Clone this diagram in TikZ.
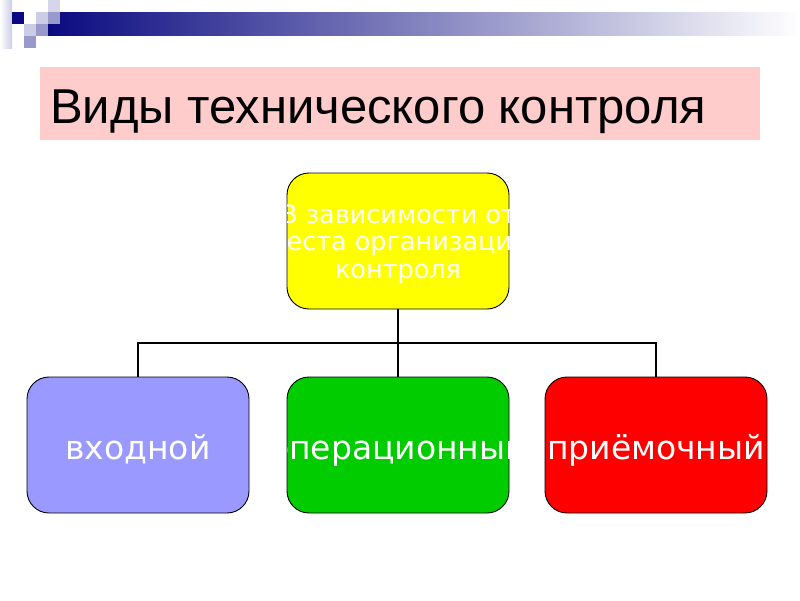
\documentclass[tikz,border=0pt]{standalone}
\usepackage{fontspec}
\setmainfont{Liberation Sans}
\newfontfamily\boxfont{DejaVu Sans}
\definecolor{navy}{HTML}{0A0A80}
\definecolor{midlav}{HTML}{9999CC}
\definecolor{palelav}{HTML}{CCCCE6}
\definecolor{titlepink}{HTML}{FFCCCC}
\definecolor{boxblue}{HTML}{9999FF}
\definecolor{boxgreen}{HTML}{00CC00}
\definecolor{boxred}{HTML}{FF0000}
\definecolor{boxyellow}{HTML}{FFFF00}
\tikzset{
  card/.style={draw=black, line width=0.9pt, rounded corners=22pt, minimum width=222pt, minimum height=136pt, inner sep=0pt},
  cardtext/.style={text=white, font=\boxfont\fontsize{33}{33}\selectfont, inner sep=0pt, anchor=base},
  smalltext/.style={text=white, font=\boxfont\fontsize{25.5}{25.5}\selectfont, inner sep=0pt, anchor=base},
  link/.style={draw=black, line width=1.4pt}
}
\begin{document}
\begin{tikzpicture}[x=1pt,y=-1pt]
\useasboundingbox (0,0) rectangle (800,600);
% decoration
\shade[left color=white, right color=palelav] (0,0) rectangle (12,48);
\shade[left color=navy, right color=white] (48,12) rectangle (800,35);
\fill[white] (48,12) rectangle (60,24);
\fill[navy] (12,12) rectangle (24,24);
\fill[palelav] (36,12) rectangle (48,24);
\fill[palelav!80] (48,0) rectangle (60,12);
\fill[midlav] (48,12) rectangle (60,24);
\fill[palelav] (24,24) rectangle (36,36);
\fill[midlav] (36,24) rectangle (48,36);
\fill[midlav] (24,36) rectangle (36,48);
% title
\fill[titlepink] (40,67) rectangle (760,140);
\node[anchor=base west, inner sep=0pt, font=\fontsize{49}{49}\selectfont] (title) at (50,123) {Виды технического контроля};
% boxes
\node[card, fill=boxyellow] (top) at (398,241) {};
\node[card, fill=boxblue] (b1) at (138,445) {};
\node[card, fill=boxgreen] (b2) at (398,445) {};
\node[card, fill=boxred] (b3) at (656,445) {};
% connectors
\coordinate (j) at (398,343);
\draw[link] (top.south) -- (j);
\draw[link] (j) -| (b1.north);
\draw[link] (j) -- (b2.north);
\draw[link] (j) -| (b3.north);
% texts (clipped to boxes)
\begin{scope}
\clip[rounded corners=22pt] (top.south west) rectangle (top.north east);
\node[smalltext] (t1) at (398,223) {В зависимости от};
\node[smalltext] (t2) at (398,250.5) {места организации};
\node[smalltext] (t3) at (398,278) {контроля};
\end{scope}
\begin{scope}
\clip[rounded corners=22pt] (b1.south west) rectangle (b1.north east);
\node[cardtext] (l1) at (138,459) {входной};
\end{scope}
\begin{scope}
\clip[rounded corners=22pt] (b2.south west) rectangle (b2.north east);
\node[cardtext] (l2) at (398,459) {операционный};
\end{scope}
\begin{scope}
\clip[rounded corners=22pt] (b3.south west) rectangle (b3.north east);
\node[cardtext] (l3) at (656,459) {приёмочный};
\end{scope}
\end{tikzpicture}
\end{document}
